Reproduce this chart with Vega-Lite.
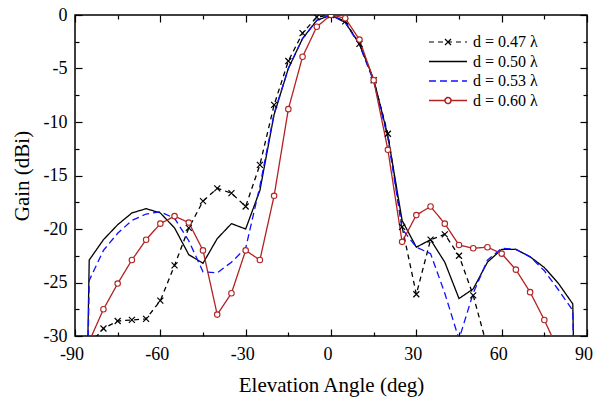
{
  "$schema": "https://vega.github.io/schema/vega-lite/v6.json",
  "width": 512,
  "height": 321,
  "autosize": {"type": "none"},
  "padding": {"left": 75, "top": 15, "right": 6, "bottom": 65},
  "background": "white",
  "config": {
    "view": {"stroke": "black", "strokeWidth": 1.5},
    "font": "Times New Roman, Liberation Serif, serif",
    "axis": {
      "labelColor": "black",
      "titleFontWeight": "normal",
      "titleColor": "black",
      "tickColor": "black",
      "tickWidth": 1.2,
      "domain": false,
      "grid": false
    }
  },
  "datasets": {
    "gain": [
      {"s": "d = 0.47 λ", "x": -85, "y": -30.8},
      {"s": "d = 0.47 λ", "x": -80, "y": -29.3},
      {"s": "d = 0.47 λ", "x": -75, "y": -28.6},
      {"s": "d = 0.47 λ", "x": -70, "y": -28.5},
      {"s": "d = 0.47 λ", "x": -65, "y": -28.4},
      {"s": "d = 0.47 λ", "x": -60, "y": -26.7},
      {"s": "d = 0.47 λ", "x": -55, "y": -23.4},
      {"s": "d = 0.47 λ", "x": -50, "y": -19.9},
      {"s": "d = 0.47 λ", "x": -45, "y": -17.4},
      {"s": "d = 0.47 λ", "x": -40, "y": -16.2},
      {"s": "d = 0.47 λ", "x": -35, "y": -16.65},
      {"s": "d = 0.47 λ", "x": -30, "y": -17.9},
      {"s": "d = 0.47 λ", "x": -25, "y": -14.0},
      {"s": "d = 0.47 λ", "x": -20, "y": -8.4},
      {"s": "d = 0.47 λ", "x": -15, "y": -4.3},
      {"s": "d = 0.47 λ", "x": -10, "y": -1.7},
      {"s": "d = 0.47 λ", "x": -5, "y": -0.2},
      {"s": "d = 0.47 λ", "x": 0, "y": 0},
      {"s": "d = 0.47 λ", "x": 5, "y": -0.6},
      {"s": "d = 0.47 λ", "x": 10, "y": -2.7},
      {"s": "d = 0.47 λ", "x": 15, "y": -6.1},
      {"s": "d = 0.47 λ", "x": 20, "y": -11.1},
      {"s": "d = 0.47 λ", "x": 25, "y": -19.8},
      {"s": "d = 0.47 λ", "x": 30, "y": -26.1},
      {"s": "d = 0.47 λ", "x": 35, "y": -21.0},
      {"s": "d = 0.47 λ", "x": 40, "y": -20.5},
      {"s": "d = 0.47 λ", "x": 45, "y": -22.5},
      {"s": "d = 0.47 λ", "x": 50, "y": -26.2},
      {"s": "d = 0.47 λ", "x": 55, "y": -31.1},

      {"s": "d = 0.50 λ", "x": -90, "y": -100},
      {"s": "d = 0.50 λ", "x": -85, "y": -22.9},
      {"s": "d = 0.50 λ", "x": -80, "y": -21.0},
      {"s": "d = 0.50 λ", "x": -75, "y": -19.6},
      {"s": "d = 0.50 λ", "x": -70, "y": -18.5},
      {"s": "d = 0.50 λ", "x": -65, "y": -18.1},
      {"s": "d = 0.50 λ", "x": -60, "y": -18.5},
      {"s": "d = 0.50 λ", "x": -55, "y": -19.9},
      {"s": "d = 0.50 λ", "x": -50, "y": -22.4},
      {"s": "d = 0.50 λ", "x": -45, "y": -23.2},
      {"s": "d = 0.50 λ", "x": -40, "y": -20.9},
      {"s": "d = 0.50 λ", "x": -35, "y": -19.5},
      {"s": "d = 0.50 λ", "x": -30, "y": -20.0},
      {"s": "d = 0.50 λ", "x": -25, "y": -16.4},
      {"s": "d = 0.50 λ", "x": -20, "y": -9.3},
      {"s": "d = 0.50 λ", "x": -15, "y": -5.0},
      {"s": "d = 0.50 λ", "x": -10, "y": -2.2},
      {"s": "d = 0.50 λ", "x": -5, "y": -0.5},
      {"s": "d = 0.50 λ", "x": 0, "y": 0},
      {"s": "d = 0.50 λ", "x": 5, "y": -0.7},
      {"s": "d = 0.50 λ", "x": 10, "y": -2.7},
      {"s": "d = 0.50 λ", "x": 15, "y": -6.0},
      {"s": "d = 0.50 λ", "x": 20, "y": -11.3},
      {"s": "d = 0.50 λ", "x": 25, "y": -19.2},
      {"s": "d = 0.50 λ", "x": 30, "y": -21.7},
      {"s": "d = 0.50 λ", "x": 35, "y": -21.0},
      {"s": "d = 0.50 λ", "x": 40, "y": -23.1},
      {"s": "d = 0.50 λ", "x": 45, "y": -26.5},
      {"s": "d = 0.50 λ", "x": 50, "y": -25.6},
      {"s": "d = 0.50 λ", "x": 55, "y": -23.1},
      {"s": "d = 0.50 λ", "x": 60, "y": -21.9},
      {"s": "d = 0.50 λ", "x": 65, "y": -21.9},
      {"s": "d = 0.50 λ", "x": 70, "y": -22.6},
      {"s": "d = 0.50 λ", "x": 75, "y": -23.6},
      {"s": "d = 0.50 λ", "x": 80, "y": -25.1},
      {"s": "d = 0.50 λ", "x": 85, "y": -27.0},
      {"s": "d = 0.50 λ", "x": 90, "y": -100},

      {"s": "d = 0.53 λ", "x": -90, "y": -100},
      {"s": "d = 0.53 λ", "x": -85, "y": -24.8},
      {"s": "d = 0.53 λ", "x": -80, "y": -22.0},
      {"s": "d = 0.53 λ", "x": -75, "y": -20.4},
      {"s": "d = 0.53 λ", "x": -70, "y": -19.2},
      {"s": "d = 0.53 λ", "x": -65, "y": -18.6},
      {"s": "d = 0.53 λ", "x": -60, "y": -18.4},
      {"s": "d = 0.53 λ", "x": -55, "y": -19.0},
      {"s": "d = 0.53 λ", "x": -50, "y": -21.1},
      {"s": "d = 0.53 λ", "x": -45, "y": -24.0},
      {"s": "d = 0.53 λ", "x": -40, "y": -24.1},
      {"s": "d = 0.53 λ", "x": -35, "y": -23.1},
      {"s": "d = 0.53 λ", "x": -30, "y": -21.8},
      {"s": "d = 0.53 λ", "x": -25, "y": -16.0},
      {"s": "d = 0.53 λ", "x": -20, "y": -9.2},
      {"s": "d = 0.53 λ", "x": -15, "y": -5.0},
      {"s": "d = 0.53 λ", "x": -10, "y": -2.2},
      {"s": "d = 0.53 λ", "x": -5, "y": -0.5},
      {"s": "d = 0.53 λ", "x": 0, "y": 0},
      {"s": "d = 0.53 λ", "x": 5, "y": -0.7},
      {"s": "d = 0.53 λ", "x": 10, "y": -2.8},
      {"s": "d = 0.53 λ", "x": 15, "y": -6.2},
      {"s": "d = 0.53 λ", "x": 20, "y": -11.5},
      {"s": "d = 0.53 λ", "x": 25, "y": -20.0},
      {"s": "d = 0.53 λ", "x": 30, "y": -21.7},
      {"s": "d = 0.53 λ", "x": 35, "y": -22.3},
      {"s": "d = 0.53 λ", "x": 40, "y": -26.0},
      {"s": "d = 0.53 λ", "x": 45, "y": -30.3},
      {"s": "d = 0.53 λ", "x": 50, "y": -26.0},
      {"s": "d = 0.53 λ", "x": 55, "y": -22.9},
      {"s": "d = 0.53 λ", "x": 60, "y": -21.8},
      {"s": "d = 0.53 λ", "x": 65, "y": -21.9},
      {"s": "d = 0.53 λ", "x": 70, "y": -22.6},
      {"s": "d = 0.53 λ", "x": 75, "y": -23.9},
      {"s": "d = 0.53 λ", "x": 80, "y": -25.7},
      {"s": "d = 0.53 λ", "x": 85, "y": -27.6},
      {"s": "d = 0.53 λ", "x": 90, "y": -100},

      {"s": "d = 0.60 λ", "x": -85, "y": -30.5},
      {"s": "d = 0.60 λ", "x": -80, "y": -27.5},
      {"s": "d = 0.60 λ", "x": -75, "y": -25.1},
      {"s": "d = 0.60 λ", "x": -70, "y": -22.9},
      {"s": "d = 0.60 λ", "x": -65, "y": -21.0},
      {"s": "d = 0.60 λ", "x": -60, "y": -19.5},
      {"s": "d = 0.60 λ", "x": -55, "y": -18.8},
      {"s": "d = 0.60 λ", "x": -50, "y": -19.4},
      {"s": "d = 0.60 λ", "x": -45, "y": -22.0},
      {"s": "d = 0.60 λ", "x": -40, "y": -28.0},
      {"s": "d = 0.60 λ", "x": -35, "y": -26.0},
      {"s": "d = 0.60 λ", "x": -30, "y": -22.0},
      {"s": "d = 0.60 λ", "x": -25, "y": -22.9},
      {"s": "d = 0.60 λ", "x": -20, "y": -16.9},
      {"s": "d = 0.60 λ", "x": -15, "y": -8.8},
      {"s": "d = 0.60 λ", "x": -10, "y": -3.9},
      {"s": "d = 0.60 λ", "x": -5, "y": -1.1},
      {"s": "d = 0.60 λ", "x": 0, "y": 0},
      {"s": "d = 0.60 λ", "x": 5, "y": -0.3},
      {"s": "d = 0.60 λ", "x": 10, "y": -2.3},
      {"s": "d = 0.60 λ", "x": 15, "y": -6.1},
      {"s": "d = 0.60 λ", "x": 20, "y": -12.6},
      {"s": "d = 0.60 λ", "x": 25, "y": -21.2},
      {"s": "d = 0.60 λ", "x": 30, "y": -18.7},
      {"s": "d = 0.60 λ", "x": 35, "y": -17.9},
      {"s": "d = 0.60 λ", "x": 40, "y": -19.5},
      {"s": "d = 0.60 λ", "x": 45, "y": -21.5},
      {"s": "d = 0.60 λ", "x": 50, "y": -21.8},
      {"s": "d = 0.60 λ", "x": 55, "y": -21.7},
      {"s": "d = 0.60 λ", "x": 60, "y": -22.3},
      {"s": "d = 0.60 λ", "x": 65, "y": -23.8},
      {"s": "d = 0.60 λ", "x": 70, "y": -25.9},
      {"s": "d = 0.60 λ", "x": 75, "y": -28.5},
      {"s": "d = 0.60 λ", "x": 80, "y": -31.4}
    ]
  },
  "data": {"name": "gain"},
  "layer": [
    {
      "mark": {"type": "line", "clip": true, "strokeWidth": 1.3},
      "encoding": {
        "x": {
          "field": "x", "type": "quantitative",
          "scale": {"domain": [-90, 90], "nice": false, "zero": false},
          "axis": {
            "orient": "bottom",
            "values": [-90, -75, -60, -45, -30, -15, 0, 15, 30, 45, 60, 75, 90],
            "labelExpr": "datum.value % 30 === 0 ? '' + datum.value : ''",
            "tickSize": {"condition": {"test": "datum.value % 30 === 0", "value": -7}, "value": -4},
            "labelFont": "Times New Roman, Liberation Serif, serif",
            "labelFontSize": 18,
            "titleFont": "Times New Roman, Liberation Serif, serif",
            "titleFontSize": 21,
            "labelPadding": 16,
            "labelOffset": -3.5,
            "labelFlush": false,
            "title": "Elevation Angle (deg)",
            "titlePadding": 11
          }
        },
        "y": {
          "field": "y", "type": "quantitative",
          "scale": {"domain": [-30, 0], "nice": false, "zero": false},
          "axis": {
            "orient": "left",
            "values": [-30, -27.5, -25, -22.5, -20, -17.5, -15, -12.5, -10, -7.5, -5, -2.5, 0],
            "labelExpr": "datum.value % 5 === 0 ? '' + datum.value : ''",
            "tickSize": {"condition": {"test": "datum.value % 5 === 0", "value": -7}, "value": -4},
            "labelFont": "Times New Roman, Liberation Serif, serif",
            "labelFontSize": 18,
            "titleFont": "Times New Roman, Liberation Serif, serif",
            "titleFontSize": 21,
            "labelPadding": 15,
            "labelFlush": false,
            "title": "Gain (dBi)",
            "titlePadding": 11
          }
        },
        "color": {
          "field": "s", "type": "nominal",
          "scale": {"domain": ["d = 0.47 λ", "d = 0.50 λ", "d = 0.53 λ", "d = 0.60 λ"], "range": ["black", "black", "#1010ff", "#b22222"]},
          "legend": {
            "orient": "none",
            "legendX": 351,
            "legendY": 19,
            "title": null,
            "padding": 0,
            "labelFont": "Times New Roman, Liberation Serif, serif",
            "labelFontSize": 16,
            "labelColor": "black",
            "symbolSize": 100,
            "symbolStrokeWidth": 1.2,
            "labelOffset": 31,
            "rowPadding": 3.5,
            "encode": {
              "symbols": {
                "update": {
                  "shape": {"signal": "indexof(datum.value, '0.47') >= 0 ? 'M-1,0H6.6M2.8,0L2.2,-0.6M2.8,0L3.4,0.6M2.8,0L2.2,0.6M2.8,0L3.4,-0.6' : indexof(datum.value, '0.60') >= 0 ? 'M-1,0H2.2M3.4,0H6.6M3.4,0A0.6,0.6 0 1 1 2.2,0A0.6,0.6 0 1 1 3.4,0' : 'M-1,0H6.6'"},
                  "fill": {"value": "white"},
                  "fillOpacity": {"value": 1}
                }
              }
            }
          }
        },
        "strokeDash": {
          "field": "s", "type": "nominal",
          "scale": {"domain": ["d = 0.47 λ", "d = 0.50 λ", "d = 0.53 λ", "d = 0.60 λ"], "range": [[5, 4], [1, 0], [7, 4], [1, 0]]},
          "legend": null
        },
        "strokeWidth": {
          "field": "s", "type": "nominal",
          "scale": {"domain": ["d = 0.47 λ", "d = 0.50 λ", "d = 0.53 λ", "d = 0.60 λ"], "range": [1.2, 1.6, 1.4, 1.1]},
          "legend": null
        }
      }
    },
    {
      "transform": [{"filter": "datum.s === 'd = 0.47 λ' && datum.y >= -30"}],
      "mark": {"type": "point", "shape": "M-1,-1L1,1M-1,1L1,-1", "size": 36, "color": "black", "strokeWidth": 1.2, "opacity": 1, "clip": true},
      "encoding": {
        "x": {"field": "x", "type": "quantitative", "axis": null},
        "y": {"field": "y", "type": "quantitative", "axis": null}
      }
    },
    {
      "transform": [{"filter": "datum.s === 'd = 0.60 λ' && datum.y >= -30"}],
      "mark": {"type": "point", "shape": "circle", "size": 30, "filled": true, "fill": "white", "stroke": "#b22222", "strokeWidth": 1.1, "opacity": 1, "fillOpacity": 1, "clip": true},
      "encoding": {
        "x": {"field": "x", "type": "quantitative", "axis": null},
        "y": {"field": "y", "type": "quantitative", "axis": null}
      }
    },
    {
      "mark": {"type": "point", "opacity": 0},
      "encoding": {
        "x": {
          "field": "x", "type": "quantitative",
          "axis": {
            "orient": "top",
            "values": [-90, -75, -60, -45, -30, -15, 0, 15, 30, 45, 60, 75, 90],
            "labels": false,
            "title": null,
            "tickSize": {"condition": {"test": "datum.value % 30 === 0", "value": -7}, "value": -4}
          }
        },
        "y": {
          "field": "y", "type": "quantitative",
          "axis": {
            "orient": "right",
            "values": [-30, -27.5, -25, -22.5, -20, -17.5, -15, -12.5, -10, -7.5, -5, -2.5, 0],
            "labels": false,
            "title": null,
            "tickSize": {"condition": {"test": "datum.value % 5 === 0", "value": -7}, "value": -4}
          }
        }
      }
    }
  ],
  "resolve": {"axis": {"x": "independent", "y": "independent"}}
}
